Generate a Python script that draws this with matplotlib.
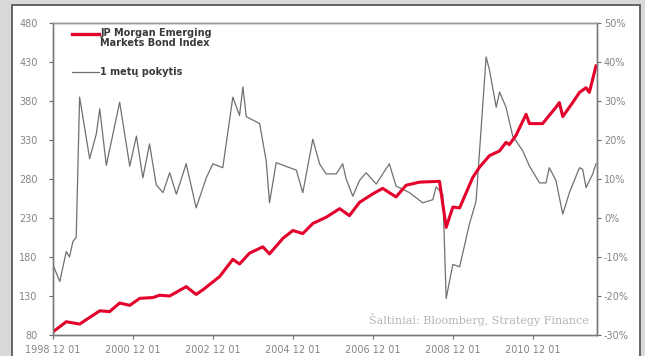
import pandas as pd
import matplotlib
matplotlib.use("Agg")
import matplotlib.pyplot as plt
from matplotlib.patches import Rectangle

# JP Morgan EMBI index (left axis)
index_dates = ["1998-12", "1999-04", "1999-08", "2000-02", "2000-05", "2000-08", "2000-11",
               "2001-02", "2001-06", "2001-08", "2001-11", "2002-04", "2002-07", "2002-09",
               "2003-02", "2003-06", "2003-08", "2003-11", "2004-03", "2004-05", "2004-09",
               "2004-12", "2005-03", "2005-06", "2005-10", "2006-02", "2006-05", "2006-08",
               "2006-12", "2007-03", "2007-07", "2007-10", "2008-02", "2008-08", "2008-10",
               "2008-12", "2009-02", "2009-06", "2009-08", "2009-11", "2010-02", "2010-04",
               "2010-05", "2010-07", "2010-10", "2010-11", "2011-03", "2011-07", "2011-08",
               "2011-09", "2011-12", "2012-02", "2012-04", "2012-05", "2012-07"]
index_values = [84, 97, 94, 111, 110, 121, 118,
                127, 128, 131, 130, 142, 132, 138,
                155, 177, 171, 185, 193, 184, 204,
                214, 210, 223, 231, 242, 233, 250,
                261, 268, 257, 272, 276, 277, 218,
                244, 243, 282, 295, 310, 316, 327,
                324, 336, 363, 351, 351, 372, 378,
                360, 378, 391, 397, 391, 425]

# 1 year change, % (right axis)
change_dates = ["1998-12", "1999-02", "1999-04", "1999-05", "1999-06", "1999-07", "1999-08",
                "1999-11", "2000-01", "2000-02", "2000-04", "2000-08", "2000-11", "2001-01",
                "2001-03", "2001-05", "2001-07", "2001-09", "2001-11", "2002-01", "2002-04",
                "2002-07", "2002-10", "2002-12", "2003-03", "2003-04", "2003-06", "2003-08",
                "2003-09", "2003-10", "2004-02", "2004-04", "2004-05", "2004-07", "2004-11",
                "2005-01", "2005-03", "2005-06", "2005-08", "2005-10", "2006-01", "2006-03",
                "2006-04", "2006-06", "2006-08", "2006-10", "2007-01", "2007-03", "2007-05",
                "2007-07", "2007-11", "2008-03", "2008-06", "2008-07", "2008-09", "2008-10",
                "2008-12", "2009-02", "2009-05", "2009-07", "2009-10", "2009-11", "2010-01",
                "2010-02", "2010-04", "2010-06", "2010-09", "2010-11", "2011-02", "2011-04",
                "2011-05", "2011-07", "2011-09", "2011-11", "2012-02", "2012-03", "2012-04",
                "2012-06", "2012-07"]
change_values = [-12, -16.3, -8.6, -10, -6, -5, 31,
                 15.2, 21.6, 28, 13.5, 29.7, 13.3, 21,
                 10.3, 19, 8.5, 6.5, 11.6, 6.1, 13.9,
                 2.6, 10.3, 13.9, 12.9, 19, 31, 26.3,
                 33.6, 26, 24.2, 14.6, 3.9, 14.2, 12.9,
                 12.3, 6.5, 20.2, 13.9, 11.3, 11.3, 13.9,
                 10, 5.6, 9.6, 11.6, 8.7, 11.3, 13.9,
                 8.2, 6.5, 3.9, 4.7, 8, 6, -20.6,
                 -11.9, -12.5, -1.6, 4.3, 41.3, 37.9, 28.4,
                 32.3, 28.4, 21, 17.2, 13.3, 9, 9,
                 12.9, 9.6, 1, 6.5, 12.9, 12.5, 7.8,
                 11.3, 13.9]

x_ticks = ["1998-12-01", "2000-12-01", "2002-12-01", "2004-12-01",
           "2006-12-01", "2008-12-01", "2010-12-01"]
left_ticks = [80, 130, 180, 230, 280, 330, 380, 430, 480]
right_ticks = [-30, -20, -10, 0, 10, 20, 30, 40, 50]

tick_color = "#858585"
red = "#e3002b"
plt.rcParams["font.family"] = ["DejaVu Sans"]

fig = plt.figure(figsize=(6.45, 3.56), dpi=100)
fig.patch.set_facecolor("#d9d9d9")
# white panel with dark border, kept behind the axes
fig.patches.append(Rectangle((12 / 645, -0.01), 628 / 645, 1 - 5 / 356 + 0.01,
                             transform=fig.transFigure, facecolor="white",
                             edgecolor="#5a5a5a", linewidth=1.3, zorder=-10))

ax = fig.add_axes([53 / 645, 21 / 356, 544 / 645, 312 / 356])
ax2 = ax.twinx()
ax.set_zorder(ax2.get_zorder() + 1)
ax.patch.set_visible(False)
ax2.patch.set_visible(False)

ax2.plot(pd.to_datetime(change_dates), change_values, color="#707070", lw=0.9)
ax.plot(pd.to_datetime(index_dates), index_values, color=red, lw=2.2,
        solid_joinstyle="round")

ax.set_xlim(pd.Timestamp("1998-12-01"), pd.Timestamp("2012-07-10"))
ax.set_ylim(80, 480)
ax2.set_ylim(-30, 50)

ax.set_xticks(pd.to_datetime(x_ticks))
ax.set_xticklabels([t.replace("-", " ") for t in x_ticks])
ax.set_yticks(left_ticks)
ax2.set_yticks(right_ticks)
ax2.set_yticklabels([f"{v}%" for v in right_ticks])

for a in (ax, ax2):
    a.tick_params(labelsize=7, colors="#6a6a6a", labelcolor=tick_color, length=3, width=0.8)
    for s in a.spines.values():
        s.set_color("#7a7a7a")
        s.set_linewidth(1.0)
ax.tick_params(axis="y", pad=8)
ax.tick_params(axis="x", pad=4)
ax2.tick_params(axis="y", pad=2)
ax.spines["top"].set_color("#9a9a9a")

# legend drawn by hand so the red key sits on the first text line
ax.plot([0.035, 0.085], [0.966, 0.966], transform=ax.transAxes, color=red, lw=2.4)
ax.text(0.087, 0.985, "JP Morgan Emerging\nMarkets Bond Index", transform=ax.transAxes,
        fontsize=7, fontweight="bold", color="#3a3a3a", va="top", ha="left",
        linespacing=1.05)
ax.plot([0.035, 0.085], [0.843, 0.843], transform=ax.transAxes, color="#707070", lw=0.9)
ax.text(0.087, 0.843, "1 metų pokytis", transform=ax.transAxes, fontsize=7,
        fontweight="bold", color="#3a3a3a", va="center", ha="left")

ax.text(0.985, 0.03, "Šaltiniai: Bloomberg, Strategy Finance", transform=ax.transAxes,
        fontsize=8, color="#b5b5b5", ha="right", va="bottom", family="DejaVu Serif")

fig.savefig("out.png", dpi=100, facecolor=fig.get_facecolor())
